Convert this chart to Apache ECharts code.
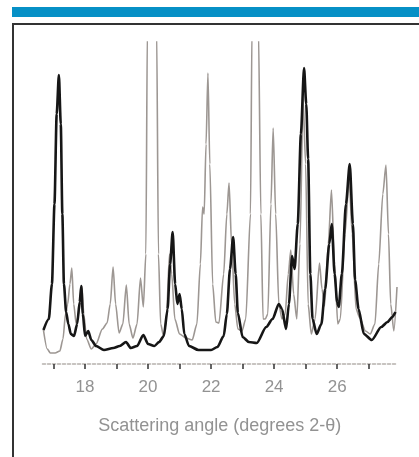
<!DOCTYPE html>
<html>
<head>
<meta charset="utf-8">
<script src="https://cdn.jsdelivr.net/npm/echarts@6/dist/echarts.min.js"></script>
<style>
html,body{margin:0;padding:0;background:#fff;}
#chart{width:419px;height:457px;}
</style>
</head>
<body>
<div id="chart"></div>
<script>
// X-ray powder patterns: scattering angle (degrees 2-theta) vs intensity (arbitrary units)
const blackAngles = [16.68,16.85,16.95,17.03,17.1,17.17,17.23,17.28,17.33,17.4,17.47,17.55,17.65,17.75,17.83,17.88,17.93,18.0,18.1,18.2,18.35,18.6,18.9,19.1,19.3,19.45,19.65,19.85,20.0,20.2,20.35,20.5,20.62,20.7,20.78,20.86,20.93,21.0,21.07,21.15,21.3,21.6,22.0,22.2,22.4,22.5,22.6,22.7,22.78,22.85,23.0,23.2,23.45,23.75,23.95,24.15,24.25,24.38,24.47,24.57,24.65,24.75,24.85,24.95,25.02,25.08,25.15,25.22,25.35,25.5,25.62,25.75,25.83,25.92,26.0,26.05,26.15,26.28,26.4,26.5,26.57,26.68,26.85,27.1,27.4,27.6,27.75,27.85];
const blackIntensity = [34,45,80,160,250,289,240,150,80,52,40,30,28,40,62,78,50,28,33,24,18,14,16,18,22,16,18,29,20,18,22,28,55,100,132,80,60,70,55,30,18,14,14,17,28,50,95,127,90,51,27,22,21,37,45,60,55,35,60,108,95,140,230,296,260,205,90,45,30,40,75,120,140,90,62,57,90,160,200,140,84,55,30,24,37,42,47,52];

const grayAngles = [16.68,16.8,16.9,17.05,17.2,17.3,17.38,17.45,17.52,17.58,17.64,17.72,17.8,17.9,17.96,18.05,18.2,18.35,18.55,18.7,18.8,18.89,18.97,19.08,19.2,19.31,19.4,19.52,19.65,19.76,19.85,19.93,19.98,20.13,20.27,20.33,20.4,20.5,20.58,20.68,20.75,20.85,21.0,21.2,21.4,21.55,21.66,21.73,21.78,21.84,21.9,21.96,22.05,22.15,22.25,22.4,22.5,22.57,22.65,22.75,22.85,22.98,23.1,23.25,23.3,23.4,23.5,23.58,23.65,23.72,23.8,23.9,23.97,24.05,24.15,24.25,24.35,24.45,24.53,24.62,24.72,24.82,24.92,25.0,25.08,25.18,25.3,25.44,25.52,25.6,25.72,25.82,25.92,26.02,26.1,26.25,26.38,26.48,26.6,26.72,26.9,27.05,27.2,27.32,27.45,27.55,27.63,27.7,27.8,27.9];
const grayIntensity = [34,15,11,11,13,25,50,60,80,96,60,40,50,78,50,25,15,20,35,41,60,97,60,31,40,79,40,26,40,86,57,110,340,650,340,110,40,27,45,110,90,45,30,26,24,40,100,157,150,220,291,200,80,42,41,90,150,181,120,60,35,33,45,150,340,600,340,150,45,45,50,160,236,150,60,45,50,90,114,70,45,120,265,200,60,30,45,101,75,58,120,174,100,40,45,130,185,130,55,46,33,30,40,100,170,199,130,60,33,77];

const tickValues = [17,18,19,20,21,22,23,24,25,26,27];
const tickLabels = [18,20,22,24,26];
const axisTitle = 'Scattering angle (degrees 2-θ)';

const zip = (xs, ys) => xs.map((x, i) => [x, ys[i]]);

const chart = echarts.init(document.getElementById('chart'), null, {renderer: 'canvas'});
chart.setOption({
  animation: false,
  backgroundColor: '#ffffff',
  graphic: [
    {type: 'rect', shape: {x: 12, y: 7, width: 420, height: 10}, style: {fill: '#0690c6'}, silent: true},
    {type: 'rect', shape: {x: 13, y: 24, width: 500, height: 500}, style: {fill: 'none', stroke: '#333', lineWidth: 2}, silent: true}
  ],
  grid: {left: 42.5, right: 22, top: 42, bottom: 93},
  xAxis: {
    type: 'value',
    min: 16.65,
    max: 27.9,
    splitLine: {show: false},
    axisLine: {show: true, lineStyle: {color: '#b5b0ac', width: 1.5, type: [3, 2]}},
    axisTick: {show: true, customValues: tickValues, length: 5, inside: false, lineStyle: {color: '#333', width: 1.5}},
    axisLabel: {customValues: tickLabels, margin: 15, color: '#929292', fontSize: 17, fontFamily: 'Liberation Sans'},
    name: axisTitle,
    nameLocation: 'middle',
    nameGap: 53,
    nameTextStyle: {color: '#929292', fontSize: 18, fontFamily: 'Liberation Sans'}
  },
  yAxis: {type: 'value', min: 0, max: 322, show: false},
  series: [
    {type: 'line', data: zip(grayAngles, grayIntensity), showSymbol: false, smooth: 0.25, smoothMonotone: 'x', clip: true,
     lineStyle: {color: '#9d9793', width: 1.6}},
    {type: 'line', data: zip(blackAngles, blackIntensity), showSymbol: false, smooth: 0.25, smoothMonotone: 'x', clip: true,
     lineStyle: {color: '#161616', width: 2.6}}
  ]
});
</script>
</body>
</html>
